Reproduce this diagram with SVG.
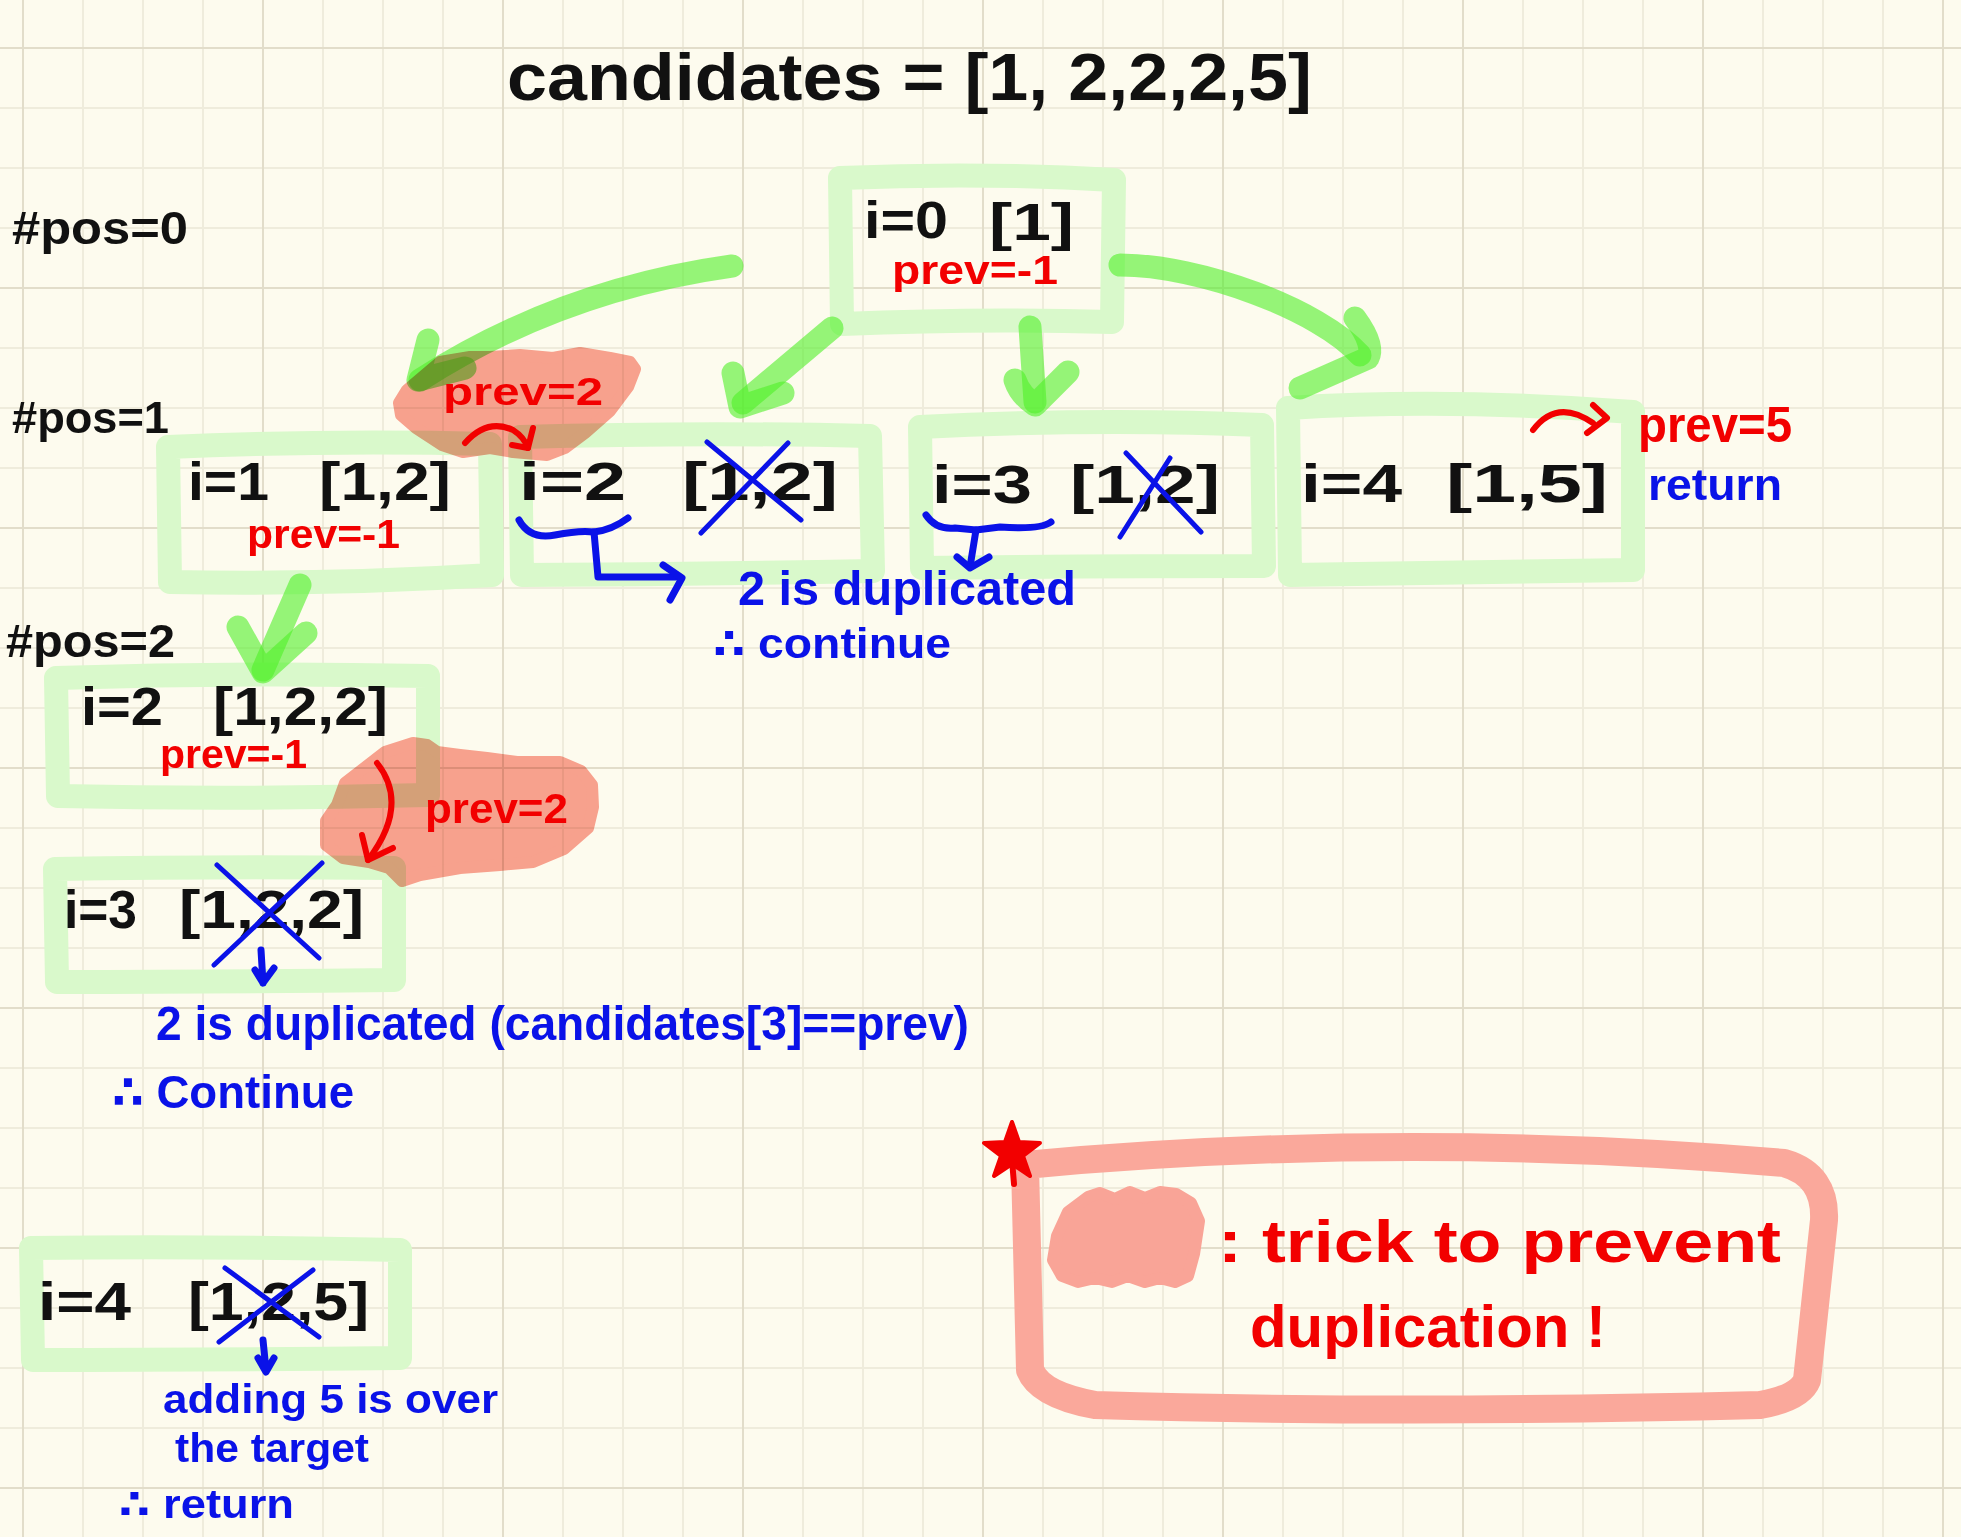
<svg xmlns="http://www.w3.org/2000/svg" width="1961" height="1537" viewBox="0 0 1961 1537">
<style>
.t{font-family:"Liberation Sans","DejaVu Sans",Arial,sans-serif;}
.bk{fill:#111;font-weight:bold;}
.rd{fill:#f20000;font-weight:bold;}
.bl{fill:#0a12e8;font-weight:bold;}
.box{fill:none;stroke:#d9f9cb;stroke-width:24;stroke-linejoin:round;stroke-linecap:round;}
.arr{fill:none;stroke:rgb(80,240,40);stroke-opacity:0.6;stroke-width:23;stroke-linecap:round;stroke-linejoin:round;}
.blob{fill:#f9a497;stroke:#f9a497;stroke-width:12;stroke-linejoin:round;}
.rline{fill:none;stroke:#f20000;stroke-width:6;stroke-linecap:round;stroke-linejoin:round;}
.bline{fill:none;stroke:#0a12e8;stroke-width:5;stroke-linecap:round;stroke-linejoin:round;}
.bbr{fill:none;stroke:#0a12e8;stroke-width:7;stroke-linecap:round;stroke-linejoin:round;}
</style>
<defs>
<pattern id="grid" patternUnits="userSpaceOnUse" x="22" y="47" width="240" height="240">
<rect x="0" y="0" width="240" height="240" fill="#fdfbee"/>
<rect x="60" y="0" width="2" height="240" fill="#efecdc"/>
<rect x="120" y="0" width="2" height="240" fill="#efecdc"/>
<rect x="180" y="0" width="2" height="240" fill="#efecdc"/>
<rect x="0" y="60" width="240" height="2" fill="#efecdc"/>
<rect x="0" y="120" width="240" height="2" fill="#efecdc"/>
<rect x="0" y="180" width="240" height="2" fill="#efecdc"/>
<rect x="0" y="0" width="2" height="240" fill="#e2ddca"/>
<rect x="0" y="0" width="240" height="2" fill="#e2ddca"/>
</pattern>
</defs>
<rect x="0" y="0" width="1961" height="1537" fill="url(#grid)"/>

<text class="t bk" x="507" y="100" font-size="66" textLength="805" lengthAdjust="spacingAndGlyphs">candidates = [1, 2,2,2,5]</text>
<text class="t bk" x="12" y="244" font-size="46" textLength="176" lengthAdjust="spacingAndGlyphs">#pos=0</text>
<text class="t bk" x="12" y="433" font-size="44" textLength="157" lengthAdjust="spacingAndGlyphs">#pos=1</text>
<text class="t bk" x="6" y="657" font-size="46" textLength="169" lengthAdjust="spacingAndGlyphs">#pos=2</text>

<!-- green boxes -->
<g id="boxes">
<path class="box" d="M840,178 Q980,172 1114,180 L1112,322 Q980,318 842,324 Z"/>
<path class="box" d="M168,447 Q330,440 490,444 L492,575 Q330,585 170,582 Z"/>
<path class="box" d="M520,437 Q700,432 870,436 L873,571 Q700,574 522,575 Z"/>
<path class="box" d="M920,427 Q1100,418 1262,425 L1264,566 Q1100,566 922,568 Z"/>
<path class="box" d="M1288,408 Q1450,398 1633,412 L1633,570 Q1450,572 1290,575 Z"/>
<path class="box" d="M56,678 Q240,672 428,676 L428,795 Q240,800 58,796 Z"/>
<path class="box" d="M55,869 Q220,866 394,868 L394,980 Q220,982 57,982 Z"/>
<path class="box" d="M31,1248 Q210,1246 400,1250 L400,1358 Q210,1360 33,1360 Z"/>
</g>

<!-- connectors -->
<g id="connectors">
<path class="arr" d="M732,266 Q560,290 420,380"/>
<path class="arr" d="M428,340 L418,380 L465,368"/>
<path class="arr" d="M832,328 L743,403"/>
<path class="arr" d="M733,373 L740,407 L783,393"/>
<path class="arr" d="M1030,327 L1035,402"/>
<path class="arr" d="M1015,380 Q1020,395 1035,405 L1068,372"/>
<path class="arr" d="M1120,265 C1200,265 1320,310 1360,355"/>
<path class="arr" d="M1355,318 Q1375,345 1368,358 L1300,388"/>
<path class="arr" d="M300,585 L263,670"/>
<path class="arr" d="M238,627 L263,672 L306,633"/>
</g>

<!-- highlight blobs -->
<g id="blobs" style="mix-blend-mode:multiply">
<polygon class="blob" points="399,403 407,390 440,362 470,357 490,357 520,355 553,358 580,353 610,358 630,362 635,369 628,387 610,411 585,433 565,448 547,455 513,452 490,448 463,452 442,445 416,428 401,415"/>
<polygon class="blob" points="345,783 385,752 413,743 427,745 437,752 460,755 487,758 517,762 560,762 581,771 592,785 593,807 588,828 564,849 533,862 500,865 460,868 420,875 402,881 389,868 369,862 343,858 326,845 326,821 337,805"/>
</g>

<!-- red arrows -->
<g id="red-arrows">
<path class="rline" d="M465,443 Q487,418 513,430 Q524,437 528,448"/>
<path class="rline" d="M533,428 L528,448 L512,445"/>
<path class="rline" d="M377,763 Q410,805 368,860"/>
<path class="rline" d="M362,835 L368,860 L393,848"/>
<path class="rline" d="M1533,430 Q1557,398 1593,423"/>
<path class="rline" d="M1593,405 L1607,418 L1587,433"/>
</g>

<g id="node-pos0">
<text class="t bk" font-size="52"><tspan x="864" y="238" textLength="84" lengthAdjust="spacingAndGlyphs">i=0</tspan><tspan x="989" y="240" textLength="85" lengthAdjust="spacingAndGlyphs">[1]</tspan></text>
<text class="t rd" x="892" y="284" font-size="40" textLength="166" lengthAdjust="spacingAndGlyphs">prev=-1</text>
</g>

<g id="node-p1-i1">
<text class="t bk" font-size="54"><tspan x="188" y="500" textLength="81" lengthAdjust="spacingAndGlyphs">i=1</tspan><tspan x="319" y="500" textLength="132" lengthAdjust="spacingAndGlyphs">[1,2]</tspan></text>
<text class="t rd" x="247" y="548" font-size="40" textLength="153" lengthAdjust="spacingAndGlyphs">prev=-1</text>
</g>

<g id="node-p1-i2">
<text class="t rd" x="443" y="405" font-size="38" textLength="160" lengthAdjust="spacingAndGlyphs">prev=2</text>
<text class="t bk" font-size="54"><tspan x="519" y="500" textLength="107" lengthAdjust="spacingAndGlyphs">i=2</tspan><tspan x="682" y="500" textLength="156" lengthAdjust="spacingAndGlyphs">[1,2]</tspan></text>
<path class="bline" d="M707,442 L801,520 M788,443 L701,533"/>
<path class="bbr" d="M519,520 Q530,540 555,535 Q580,530 594,532 Q612,530 628,518"/>
<path class="bbr" d="M594,532 L598,577 L676,577"/>
<path class="bbr" d="M663,565 L682,578 L670,600"/>
<text class="t bl" x="738" y="605" font-size="48" textLength="338" lengthAdjust="spacingAndGlyphs">2 is duplicated</text>
<text class="t bl" x="713" y="658" font-size="42" textLength="238" lengthAdjust="spacingAndGlyphs">∴ continue</text>
</g>

<g id="node-p1-i3">
<text class="t bk" font-size="54"><tspan x="932" y="503" textLength="100" lengthAdjust="spacingAndGlyphs">i=3</tspan><tspan x="1070" y="503" textLength="150" lengthAdjust="spacingAndGlyphs">[1,2]</tspan></text>
<path class="bline" d="M1126,453 L1201,532 M1170,458 L1120,537"/>
<path class="bbr" d="M926,515 Q936,530 955,528 L976,530 L1000,527 Q1040,530 1051,522"/>
<path class="bbr" d="M976,530 L970,567"/>
<path class="bbr" d="M957,557 L970,568 L989,557"/>
</g>

<g id="node-p1-i4">
<text class="t bk" font-size="54"><tspan x="1301" y="502" textLength="101" lengthAdjust="spacingAndGlyphs">i=4</tspan><tspan x="1446" y="502" textLength="162" lengthAdjust="spacingAndGlyphs">[1,5]</tspan></text>
<text class="t rd" x="1638" y="442" font-size="50" textLength="154" lengthAdjust="spacingAndGlyphs">prev=5</text>
<text class="t bl" x="1648" y="500" font-size="44" textLength="134" lengthAdjust="spacingAndGlyphs">return</text>
</g>

<g id="node-p2-i2">
<text class="t bk" font-size="54"><tspan x="81" y="725" textLength="82" lengthAdjust="spacingAndGlyphs">i=2</tspan><tspan x="213" y="725" textLength="175" lengthAdjust="spacingAndGlyphs">[1,2,2]</tspan></text>
<text class="t rd" x="160" y="768" font-size="40" textLength="147" lengthAdjust="spacingAndGlyphs">prev=-1</text>
<text class="t rd" x="425" y="823" font-size="42" textLength="143" lengthAdjust="spacingAndGlyphs">prev=2</text>
</g>

<g id="node-p2-i3">
<text class="t bk" font-size="54"><tspan x="64" y="928" textLength="73" lengthAdjust="spacingAndGlyphs">i=3</tspan><tspan x="179" y="928" textLength="185" lengthAdjust="spacingAndGlyphs">[1,2,2]</tspan></text>
<path class="bline" d="M217,865 L319,958 M322,863 L214,965"/>
<path class="bbr" d="M261,950 L263,983 M255,970 L263,983 L274,968"/>
<text class="t bl" x="156" y="1040" font-size="48" textLength="813" lengthAdjust="spacingAndGlyphs">2 is duplicated (candidates[3]==prev)</text>
<text class="t bl" x="112" y="1108" font-size="46" textLength="242" lengthAdjust="spacingAndGlyphs">∴ Continue</text>
</g>

<g id="node-p2-i4">
<text class="t bk" font-size="54"><tspan x="38" y="1320" textLength="93" lengthAdjust="spacingAndGlyphs">i=4</tspan><tspan x="188" y="1320" textLength="181" lengthAdjust="spacingAndGlyphs">[1,2,5]</tspan></text>
<path class="bline" d="M225,1268 L319,1337 M313,1270 L219,1342"/>
<path class="bbr" d="M263,1340 L266,1370 M258,1358 L266,1372 L274,1358"/>
<text class="t bl" x="163" y="1413" font-size="40" textLength="335" lengthAdjust="spacingAndGlyphs">adding 5 is over</text>
<text class="t bl" x="175" y="1462" font-size="40" textLength="194" lengthAdjust="spacingAndGlyphs">the target</text>
<text class="t bl" x="119" y="1518" font-size="40" textLength="175" lengthAdjust="spacingAndGlyphs">∴ return</text>
</g>

<g id="legend">
<path d="M1025,1165 Q1400,1130 1784,1163 Q1826,1175 1824,1220 L1807,1380 Q1800,1398 1760,1405 Q1400,1414 1095,1405 Q1040,1395 1030,1370 Z" fill="none" stroke="#faa89b" stroke-width="28" stroke-linejoin="round"/>
<polygon points="1012,1122 1019,1142 1040,1143 1023,1156 1030,1176 1012,1164 994,1176 1001,1156 984,1143 1005,1142" fill="#f20000" stroke="#f20000" stroke-width="4" stroke-linejoin="round"/>
<path d="M1012,1160 L1014,1184" stroke="#f20000" stroke-width="6" stroke-linecap="round"/>
<polygon class="blob" points="1088,1197 1100,1193 1115,1199 1130,1192 1145,1198 1160,1192 1176,1194 1191,1203 1199,1221 1194,1254 1188,1276 1175,1282 1160,1278 1145,1282 1128,1276 1112,1282 1095,1278 1078,1282 1062,1276 1053,1260 1057,1236 1068,1212"/>
<text class="t rd" x="1218" y="1262" font-size="60" textLength="563" lengthAdjust="spacingAndGlyphs">: trick to prevent</text>
<text class="t rd" x="1250" y="1347" font-size="60" textLength="356" lengthAdjust="spacingAndGlyphs">duplication !</text>
</g>
</svg>
